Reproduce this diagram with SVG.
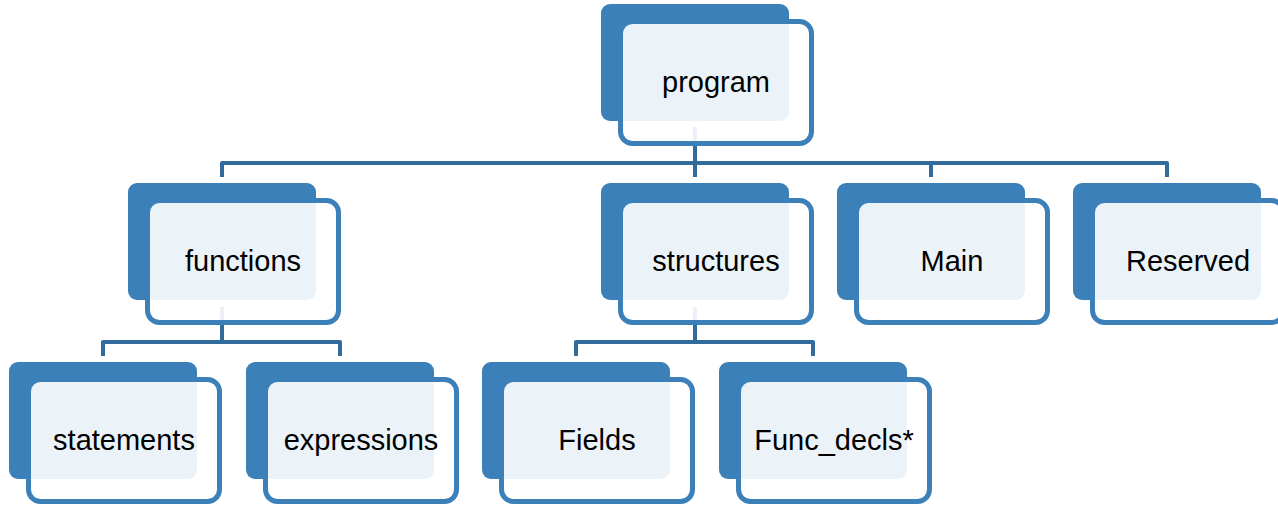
<svg xmlns="http://www.w3.org/2000/svg" width="1278" height="505" viewBox="0 0 1278 505">
<style>
.back{fill:#3B80B9;}
.front{fill:#ffffff;fill-opacity:0.9;stroke:#3C80BA;stroke-width:5;}
.lbl{font-family:"Liberation Sans",Arial,sans-serif;font-size:29px;fill:#000;text-anchor:middle;}
.conn{fill:none;stroke:#316C9D;stroke-width:4;stroke-linejoin:round;}
</style>
<defs>
<g id="shape">
<rect class="back" x="0" y="0" width="188" height="117" rx="9"/>
<rect class="front" x="19.5" y="17.5" width="191" height="122" rx="12"/>
</g>
</defs>
<g id="connectors">
<path class="conn" d="M695,127 V163"/>
<path class="conn" d="M222,177 V163 H1167 V177 M695,163 V177 M931,163 V177"/>
<path class="conn" d="M222,307 V342"/>
<path class="conn" d="M103,356 V342 H340 V356"/>
<path class="conn" d="M695,307 V342"/>
<path class="conn" d="M576,356 V342 H813 V356"/>
</g>
<g id="node-program" transform="translate(601,4)"><use href="#shape"/><text class="lbl" x="115" y="88">program</text></g>
<g id="node-functions" transform="translate(128,183)"><use href="#shape"/><text class="lbl" x="115" y="88">functions</text></g>
<g id="node-structures" transform="translate(601,183)"><use href="#shape"/><text class="lbl" x="115" y="88">structures</text></g>
<g id="node-main" transform="translate(837,183)"><use href="#shape"/><text class="lbl" x="115" y="88">Main</text></g>
<g id="node-reserved" transform="translate(1073,183)"><use href="#shape"/><text class="lbl" x="115" y="88">Reserved</text></g>
<g id="node-statements" transform="translate(9,362)"><use href="#shape"/><text class="lbl" x="115" y="88">statements</text></g>
<g id="node-expressions" transform="translate(246,362)"><use href="#shape"/><text class="lbl" x="115" y="88">expressions</text></g>
<g id="node-fields" transform="translate(482,362)"><use href="#shape"/><text class="lbl" x="115" y="88">Fields</text></g>
<g id="node-funcdecls" transform="translate(719,362)"><use href="#shape"/><text class="lbl" x="115" y="88">Func_decls*</text></g>
</svg>
